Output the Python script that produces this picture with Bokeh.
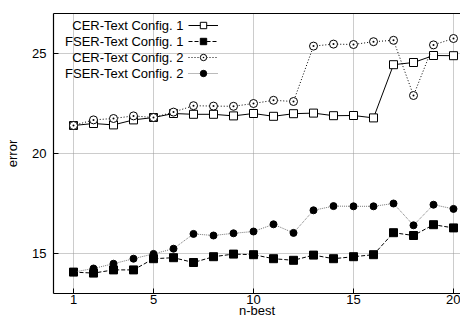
from bokeh.plotting import figure
from bokeh.models import FixedTicker, Legend, LegendItem, Label, LinearAxis, Range1d
from bokeh.embed import file_html
from bokeh.resources import INLINE

n_best = list(range(1, 21))
cer_cfg1 = [21.4, 21.5, 21.43, 21.68, 21.8, 22.0, 21.96, 21.96, 21.88, 22.0,
            21.86, 21.99, 22.02, 21.89, 21.9, 21.78, 24.44, 24.55, 24.9, 24.89]
fser_cfg1 = [14.07, 14.02, 14.18, 14.18, 14.74, 14.79, 14.55, 14.84, 14.97, 14.94,
             14.74, 14.66, 14.92, 14.74, 14.84, 14.94, 16.04, 15.9, 16.44, 16.28]
cer_cfg2 = [21.4, 21.68, 21.75, 21.88, 21.8, 22.07, 22.39, 22.37, 22.36, 22.5,
            22.66, 22.6, 25.37, 25.47, 25.45, 25.59, 25.66, 22.9, 25.43, 25.75]
fser_cfg2 = [14.07, 14.25, 14.49, 14.74, 14.98, 15.24, 15.98, 15.9, 16.01, 16.1,
             16.46, 16.03, 17.16, 17.37, 17.36, 17.36, 17.5, 16.41, 17.44, 17.23]
series_names = ["CER-Text Config. 1", "FSER-Text Config. 1",
                "CER-Text Config. 2", "FSER-Text Config. 2"]
x_label = "n-best"
y_label = "error"
x_ticks = [1, 5, 10, 15, 20]
y_ticks = [15, 20, 25]

FONT = "Liberation Sans"
FS = "13px"

p = figure(width=460, height=320, output_backend="svg", toolbar_location=None,
           x_range=Range1d(0, 20.35), y_range=Range1d(13, 27),
           min_border_left=53, min_border_right=0, min_border_top=13, min_border_bottom=27)
p.outline_line_color = None
p.background_fill_color = "white"
p.border_fill_color = "white"

for ax in (p.xaxis[0], p.yaxis[0]):
    ax.major_tick_in = 5
    ax.major_tick_out = 0
    ax.minor_tick_line_color = None
    ax.axis_line_color = "black"
    ax.axis_line_width = 1.2
    ax.major_tick_line_color = "black"
    ax.major_label_text_font = FONT
    ax.major_label_text_font_size = FS
    ax.major_label_text_color = "black"
    ax.axis_label_text_font = FONT
    ax.axis_label_text_font_size = FS
    ax.axis_label_text_font_style = "normal"
    ax.axis_label_text_color = "black"

p.xaxis.ticker = FixedTicker(ticks=x_ticks)
p.yaxis.ticker = FixedTicker(ticks=y_ticks)
p.xaxis.axis_label = x_label
p.yaxis.axis_label = y_label
p.xaxis.major_label_standoff = 1
p.xaxis.axis_label_standoff = -4
p.yaxis.major_label_standoff = 7
p.yaxis.axis_label_standoff = 9

top = LinearAxis(ticker=FixedTicker(ticks=[]), axis_line_color="black", axis_line_width=1.2,
                 major_tick_out=0, major_tick_in=0, minor_tick_line_color=None)
p.add_layout(top, "above")

for g in (p.xgrid[0], p.ygrid[0]):
    g.grid_line_color = "#999999"
    g.grid_line_dash = "1 1"
    g.grid_line_width = 1
p.xgrid.ticker = FixedTicker(ticks=x_ticks)
p.ygrid.ticker = FixedTicker(ticks=y_ticks)

r1l = p.line(n_best, cer_cfg1, line_color="black", line_width=1)
r1m = p.scatter(n_best, cer_cfg1, marker="square", size=8, fill_color="white",
                line_color="black", line_width=1)
r2l = p.line(n_best, fser_cfg1, line_color="black", line_width=1, line_dash="4 2")
r2m = p.scatter(n_best, fser_cfg1, marker="square", size=8, fill_color="black",
                line_color="black")
r3l = p.line(n_best, cer_cfg2, line_color="black", line_width=1, line_dash="1 2")
r3m = p.scatter(n_best, cer_cfg2, marker="circle_dot", size=8, fill_color="white",
                line_color="black", line_width=1)
r4l = p.line(n_best, fser_cfg2, line_color="#777777", line_width=1, line_dash="1 1")
r4m = p.scatter(n_best, fser_cfg2, marker="circle", size=7, fill_color="black",
                line_color="black")

items = [LegendItem(label=" ", renderers=[l, m]) for l, m in
         [(r1l, r1m), (r2l, r2m), (r3l, r3m), (r4l, r4m)]]
leg = Legend(items=items, location=(135, 212), glyph_width=30, glyph_height=16,
             label_width=0, label_standoff=0, label_height=16, spacing=0, padding=0,
             margin=0, border_line_color=None, background_fill_alpha=0,
             label_text_font_size="1px")
p.add_layout(leg, "center")

for i, name in enumerate(series_names):
    p.add_layout(Label(x=130, y=268 - 16 * i, x_units="screen", y_units="screen",
                       text=name, text_align="right", text_baseline="middle",
                       text_font=FONT, text_font_size=FS, text_color="black"))

open("out.html", "w").write(file_html(p, INLINE))
